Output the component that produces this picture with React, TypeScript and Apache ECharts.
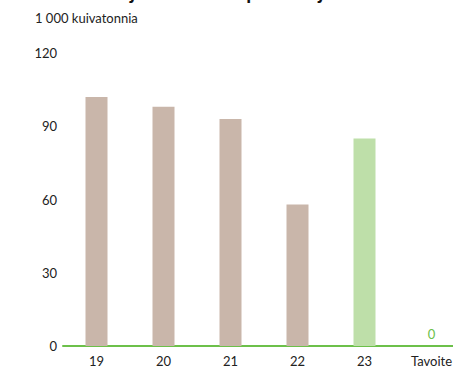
import React, { useEffect, useRef } from "react";
import * as echarts from "echarts";

const categories = ["19", "20", "21", "22", "23", "Tavoite"];
const values = [102, 98, 93, 58, 85, 0];
const barColors = ["#c9b6aa", "#c9b6aa", "#c9b6aa", "#c9b6aa", "#bedfa9", "#bedfa9"];
const yTicks = [0, 30, 60, 90, 120];
const unitLabel = "1 000 kuivatonnia";
const titleText = "Prosessijätteen kaatopaikkasijoitus vuosittain";

export default function App() {
  const ref = useRef<HTMLDivElement>(null);
  useEffect(() => {
    if (!ref.current) return;
    const chart = echarts.init(ref.current, null, { renderer: "svg" });
    const font = "Lato, 'DejaVu Sans', sans-serif";
    chart.setOption({
      animation: false,
      textStyle: { fontFamily: font },
      grid: { left: 63, right: 0, top: 53, bottom: 21, containLabel: false },
      graphic: [
        {
          type: "text",
          left: 57,
          top: -19,
          style: { text: titleText, font: "bold 20px " + font, fill: "#111" },
        },
        {
          type: "text",
          left: 35,
          top: 11,
          style: { text: unitLabel, font: "13px " + font, fill: "#222" },
        },
      ],
      xAxis: {
        type: "category",
        data: categories,
        axisLine: { show: true, lineStyle: { color: "#6cc04a", width: 2 } },
        axisTick: { show: false },
        axisLabel: { color: "#222", fontSize: 13, margin: 8, fontFamily: font },
      },
      yAxis: {
        type: "value",
        min: yTicks[0],
        max: yTicks[yTicks.length - 1],
        interval: 30,
        axisLine: { show: false },
        axisTick: { show: false },
        splitLine: { show: false },
        axisLabel: { color: "#222", fontSize: 13, margin: 6, fontFamily: font },
      },
      series: [
        {
          type: "bar",
          barWidth: 22,
          data: values.map((v, i) => ({
            value: v,
            itemStyle: { color: barColors[i] },
            label:
              i === values.length - 1
                ? { show: true, position: "top", color: "#6cc04a", fontSize: 13, distance: 6 }
                : { show: false },
          })),
        },
      ],
    });
    return () => chart.dispose();
  }, []);
  return (
    <div style={{ width: 453, height: 367, position: "absolute", left: 0, top: 0, overflow: "hidden" }}>
      <div ref={ref} style={{ width: 465, height: 367 }} />
    </div>
  );
}
